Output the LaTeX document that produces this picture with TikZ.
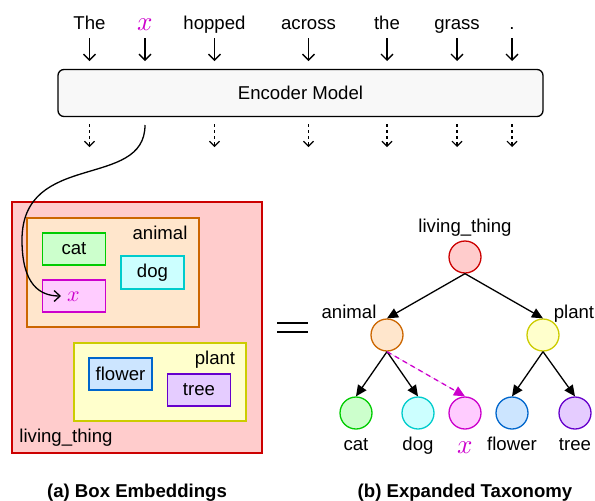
\documentclass[tikz,border=0pt]{standalone}
\usepackage{fontspec}
\setmainfont{Liberation Sans}
\newfontfamily\lmmath{latinmodern-math.otf}
\usetikzlibrary{arrows.meta}
\definecolor{ltF}{HTML}{FFCCCC}\definecolor{ltD}{HTML}{CC0000}
\definecolor{anF}{HTML}{FFE6CC}\definecolor{anD}{HTML}{CC6600}
\definecolor{plF}{HTML}{FFFFCC}\definecolor{plD}{HTML}{CCCC00}
\definecolor{caF}{HTML}{CCFFCC}\definecolor{caD}{HTML}{00CC00}
\definecolor{doF}{HTML}{CCFFFF}\definecolor{doD}{HTML}{00CCCC}
\definecolor{xF}{HTML}{FFCCFF}\definecolor{xD}{HTML}{CC00CC}
\definecolor{flF}{HTML}{CCE5FF}\definecolor{flD}{HTML}{0066CC}
\definecolor{trF}{HTML}{E5CCFF}\definecolor{trD}{HTML}{6600CC}
\definecolor{encF}{HTML}{F8F8F8}
\newcommand{\magx}[1]{\textcolor{xD}{\fontsize{#1}{#1}\lmmath 𝑥}}
\tikzset{
  word/.style={anchor=base, inner sep=0pt},
  arr/.style={line width=1.3pt, -{Straight Barb[length=6pt,width=12pt,line width=1.3pt]}},
  darr/.style={line width=1.1pt, dash pattern=on 3pt off 3pt, -{Straight Barb[length=5pt,width=10pt,line width=1.1pt]}},
  carr/.style={line width=1.3pt, -{Straight Barb[length=6pt,width=11pt,line width=1.3pt]}},
  tarr/.style={line width=1.3pt, -{Triangle[length=11pt,width=10pt]}},
  ebox/.style={draw=#1D, fill=#1F, line width=1.3pt, inner sep=0pt},
  tnode/.style={circle, draw=#1D, fill=#1F, line width=1.3pt, minimum size=32pt, inner sep=0pt},
  lbl/.style={anchor=base, inner sep=0pt},
}
\begin{document}
\begin{tikzpicture}[x=1pt,y=-1pt,font=\fontsize{18.6}{22}\selectfont]
\useasboundingbox (0,0) rectangle (595,501);
% top words
\node[word] (w1) at (89.5,29) {The};
\node[word] (w2) at (145,30) {\magx{27}};
\node[word] (w3) at (214.5,29) {hopped};
\node[word] (w4) at (308.5,29) {across};
\node[word] (w5) at (387,29) {the};
\node[word] (w6) at (457,29) {grass};
\node[word] (w7) at (512,29) {.};
\coordinate (ra) at (0,38); \coordinate (rb) at (0,61);
\coordinate (da) at (0,124); \coordinate (db) at (0,147);
\foreach \w in {w1,w2,w3,w4,w5,w6,w7}{
  \draw[arr] (\w.base |- ra) -- (\w.base |- rb);
}
\foreach \w in {w1,w3,w4,w5,w6,w7}{
  \draw[darr] (\w.base |- da) -- (\w.base |- db);
}
% encoder
\node[draw, fill=encF, line width=1.3pt, rounded corners=6pt, minimum width=485pt, minimum height=47pt, inner sep=0pt] (enc) at (300.5,93) {Encoder Model};
% box embeddings
\node[ebox=lt, minimum width=250pt, minimum height=251pt] (blt) at (137,327.5) {};
\node[ebox=an, minimum width=172pt, minimum height=109pt] (ban) at (113,272.5) {};
\node[ebox=pl, minimum width=172pt, minimum height=78pt] (bpl) at (160,382) {};
\node[ebox=ca, minimum width=63pt, minimum height=32pt] (bca) at (74,249) {cat};
\node[ebox=x, minimum width=63pt, minimum height=32pt] (bx) at (74,296) {};
\node[word] (bxl) at (74,301.5) {\magx{22}};
\node[ebox=do, minimum width=63pt, minimum height=33pt] (bdo) at (152.5,272.5) {dog};
\node[ebox=fl, minimum width=63pt, minimum height=32pt] (bfl) at (120.5,374) {flower};
\node[ebox=tr, minimum width=63pt, minimum height=32pt] (btr) at (199,390) {tree};
\node[lbl] (lan) at (160,239) {animal};
\node[lbl] (lpl) at (215,364) {plant};
\node[lbl] (llt) at (66,442) {living\_thing};
% curve from encoder output to x box
\coordinate (xo) at (145,125);
\coordinate (xin) at (61,296);
\draw[carr] (xo) .. controls (145,190) and (22,150) .. (22,240) .. controls (22,285) and (40,296) .. (xin);
% equals
\draw[line width=1.6pt] (277,323) -- (308,323);
\draw[line width=1.6pt] (277,332) -- (308,332);
% taxonomy
\node[tnode=lt] (tlt) at (465,257) {};
\node[tnode=an] (tan) at (387,335) {};
\node[tnode=pl] (tpl) at (543,335) {};
\node[tnode=ca] (tca) at (356,413) {};
\node[tnode=do] (tdo) at (418,413) {};
\node[tnode=x] (tx) at (465,413) {};
\node[tnode=fl] (tfl) at (512,413) {};
\node[tnode=tr] (ttr) at (575,413) {};
\node[lbl] (tllt) at (465,232) {living\_thing};
\node[lbl] (tlan) at (349,318) {animal};
\node[lbl] (tlpl) at (574,318) {plant};
\node[lbl] (tlca) at (356,450) {cat};
\node[lbl] (tldo) at (418,450) {dog};
\node[lbl] (tlx) at (465,453) {\magx{27}};
\node[lbl] (tlfl) at (512,450) {flower};
\node[lbl] (tltr) at (575,450) {tree};
\draw[tarr] (tlt.south) -- (tan.north);
\draw[tarr] (tlt.south) -- (tpl.north);
\draw[tarr] (tan.south) -- (tca.north);
\draw[tarr] (tan.south) -- (tdo.north);
\draw[tarr] (tpl.south) -- (tfl.north);
\draw[tarr] (tpl.south) -- (ttr.north);
\draw[tarr, draw=xD, fill=xD, dash pattern=on 5pt off 4pt] (tan.south) -- (tx.north);
% captions
\node[lbl, font=\fontsize{18.6}{22}\selectfont\bfseries] (capa) at (137,497) {(a) Box Embeddings};
\node[lbl, font=\fontsize{18.6}{22}\selectfont\bfseries] (capb) at (465,497) {(b) Expanded Taxonomy};
\end{tikzpicture}
\end{document}
